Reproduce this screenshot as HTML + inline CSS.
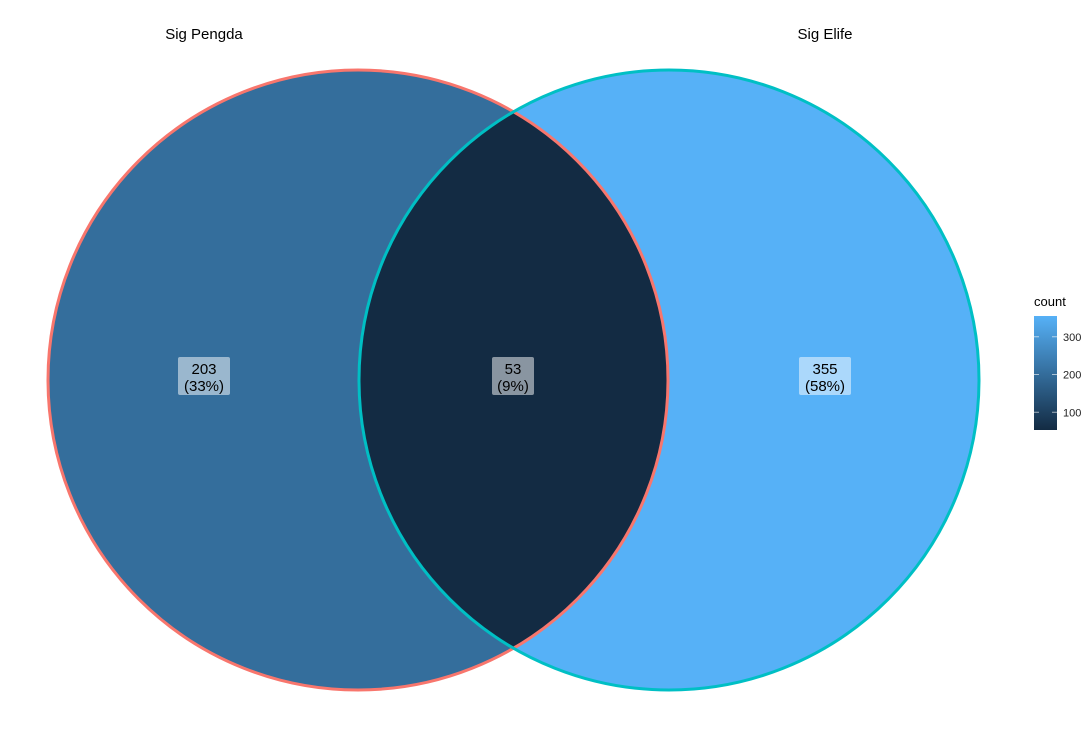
<!DOCTYPE html>
<html><head><meta charset="utf-8"><style>
body{margin:0;background:#fff;font-family:"Liberation Sans",sans-serif}
</style></head><body>
<svg width="1087" height="724" font-family="Liberation Sans, sans-serif">
<defs>
<clipPath id="clipL"><circle cx="358" cy="380" r="310"/></clipPath>
<linearGradient id="grad" x1="0" y1="1" x2="0" y2="0">
<stop offset="0" stop-color="#132B43"/><stop offset="1" stop-color="#56B1F7"/></linearGradient>
</defs>
<g id="venn"></g>
<g id="legend"></g>
</svg>
<script>
const setNames=["Sig Pengda","Sig Elife"];
const counts=[203,53,355];
const pcts=["33%","9%","58%"];
const legendTicks=[100,200,300];
const ns="http://www.w3.org/2000/svg";
const vennG=document.getElementById('venn'), legG=document.getElementById('legend');
function mk(tag,attrs,parent){const e=document.createElementNS(ns,tag);for(const k in attrs)e.setAttribute(k,attrs[k]);parent.appendChild(e);return e;}
const minC=Math.min(...counts), maxC=Math.max(...counts);
function lerp(a,b,t){return Math.round(a+(b-a)*t);}
function col(v){const t=(v-minC)/(maxC-minC);return `rgb(${lerp(0x13,0x56,t)},${lerp(0x2B,0xB1,t)},${lerp(0x43,0xF7,t)})`;}
const CL={cx:358,cy:380,r:310},CR={cx:669,cy:380,r:310};
let c=mk('circle',{cx:CL.cx,cy:CL.cy,r:CL.r,fill:col(counts[0])},vennG);


c=mk('circle',{cx:CR.cx,cy:CR.cy,r:CR.r,fill:col(counts[2])},vennG);


c=mk('circle',{cx:CR.cx,cy:CR.cy,r:CR.r,fill:col(counts[1]),'clip-path':'url(#clipL)'},vennG);


c=mk('circle',{cx:CL.cx,cy:CL.cy,r:CL.r,fill:'none',stroke:'#F8766D','stroke-width':3},vennG);


c=mk('circle',{cx:CR.cx,cy:CR.cy,r:CR.r,fill:'none',stroke:'#00BFC4','stroke-width':3},vennG);


const titleX=[204,825];
setNames.forEach((n,i)=>{const t=mk('text',{x:titleX[i],y:39,'text-anchor':'middle','font-size':15,fill:'#000'},vennG);t.textContent=n;

});
const lx=[204,513,825], bw=[52,42,52];
counts.forEach((v,i)=>{
const b=mk('rect',{x:lx[i]-bw[i]/2,y:357,width:bw[i],height:38,rx:2,fill:'#fff','fill-opacity':0.5},vennG);


const t=mk('text',{x:lx[i],y:374,'text-anchor':'middle','font-size':15,fill:'#000'},vennG);t.textContent=v;


const p=mk('text',{x:lx[i],y:391,'text-anchor':'middle','font-size':15,fill:'#000'},vennG);p.textContent='('+pcts[i]+')';


});
const barTop=316,barBot=430;
function ly(v){return barBot-(v-minC)/(maxC-minC)*(barBot-barTop);}
let lt=mk('text',{x:1034,y:306,'font-size':13,fill:'#000'},legG);lt.textContent='count';


let r=mk('rect',{x:1034,y:barTop,width:23,height:barBot-barTop,fill:'url(#grad)'},legG);


legendTicks.forEach(v=>{const y=ly(v);
mk('line',{x1:1034,x2:1039,y1:y,y2:y,stroke:'#fff','stroke-opacity':0.6},legG);
mk('line',{x1:1052,x2:1057,y1:y,y2:y,stroke:'#fff','stroke-opacity':0.6},legG);
const tt=mk('text',{x:1063,y:y+4,'font-size':11,fill:'#222'},legG);tt.textContent=v;

});
</script>
</body></html>
